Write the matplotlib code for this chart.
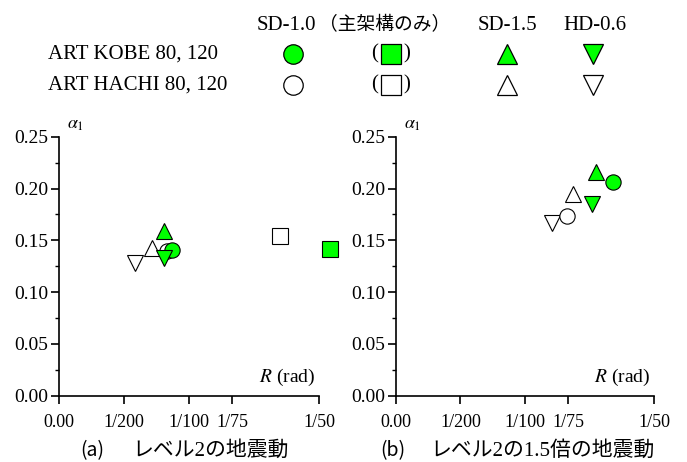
import matplotlib.pyplot as plt
from matplotlib.ticker import MultipleLocator

plt.rcParams['font.family'] = ['Liberation Serif', 'Noto Sans CJK JP']
plt.rcParams['mathtext.fontset'] = 'stix'

GREEN = '#00ff00'

# level 2 ground motion (a)
a_open_tri_dn = (0.00582, 0.1278)
a_open_tri_up = (0.00716, 0.1429)
a_open_circle = (0.00826, 0.1400)
a_fill_circle = (0.00869, 0.1403)
a_fill_tri_up = (0.00803, 0.1590)
a_fill_tri_dn = (0.00810, 0.1326)
a_open_square = (0.01703, 0.1542)
a_fill_square = (0.02088, 0.1416)

# 1.5x level 2 ground motion (b)
b_open_tri_dn = (0.01212, 0.1664)
b_open_circle = (0.01323, 0.1737)
b_open_tri_up = (0.01375, 0.1947)
b_fill_tri_dn = (0.01522, 0.1847)
b_fill_tri_up = (0.01549, 0.2160)
b_fill_circle = (0.01682, 0.2060)

x_ticks = [0.0, 1 / 200, 1 / 100, 1 / 75, 1 / 50]
x_ticklabels = ['0.00', '1/200', '1/100', '1/75', '1/50']

W, H = 687, 462
fig = plt.figure(figsize=(6.87, 4.62), dpi=100)
ax_a = fig.add_axes([0.0863, 0.1435, 0.378, 0.5605])
ax_b = fig.add_axes([0.5764, 0.1435, 0.3756, 0.5605])


def mark(ax, pt, marker, filled, size):
    ax.plot(pt[0], pt[1], marker=marker, markersize=size,
            markerfacecolor=GREEN if filled else 'white',
            markeredgecolor='black', markeredgewidth=0.8,
            linestyle='none', clip_on=False)


def style(ax):
    ax.set_xlim(0, 0.02)
    ax.set_ylim(0, 0.25)
    ax.spines['top'].set_visible(False)
    ax.spines['right'].set_visible(False)
    ax.spines['left'].set_linewidth(1.2)
    ax.spines['bottom'].set_linewidth(1.2)
    ax.set_xticks(x_ticks)
    ax.set_xticklabels(x_ticklabels)
    ax.yaxis.set_major_locator(MultipleLocator(0.05))
    ax.yaxis.set_minor_locator(MultipleLocator(0.025))
    ax.set_yticklabels([f'{v:.2f}' for v in ax.get_yticks()])
    ax.tick_params(direction='out', length=6, width=1.2)
    ax.tick_params(which='minor', direction='out', length=3, width=1.0)
    ax.tick_params(axis='x', pad=7, labelsize=13)
    ax.tick_params(axis='y', pad=2, labelsize=14)
    ax.text(0.03, 1.015, r'$\alpha_1$', transform=ax.transAxes,
            fontsize=13, ha='left', va='bottom')
    ax.text(0.985, 0.07, r'$R$ (rad)', transform=ax.transAxes,
            fontsize=14, ha='right', va='center')


style(ax_a)
style(ax_b)

mark(ax_a, a_open_tri_dn, 'v', False, 11)
mark(ax_a, a_open_tri_up, '^', False, 11)
mark(ax_a, a_open_circle, 'o', False, 11)
mark(ax_a, a_fill_circle, 'o', True, 11)
mark(ax_a, a_fill_tri_up, '^', True, 11)
mark(ax_a, a_fill_tri_dn, 'v', True, 11)
mark(ax_a, a_open_square, 's', False, 11)
mark(ax_a, a_fill_square, 's', True, 11)

mark(ax_b, b_open_tri_dn, 'v', False, 11)
mark(ax_b, b_open_circle, 'o', False, 11)
mark(ax_b, b_open_tri_up, '^', False, 11)
mark(ax_b, b_fill_tri_dn, 'v', True, 11)
mark(ax_b, b_fill_tri_up, '^', True, 11)
mark(ax_b, b_fill_circle, 'o', True, 11)

# overlay in pixel coordinates for legend block and captions
top = fig.add_axes([0, 0, 1, 1], facecolor='none')
top.set_xlim(0, W)
top.set_ylim(H, 0)
top.axis('off')

# captions
top.text(80, 451, '(a)', fontsize=14, family='Noto Sans CJK JP',
         ha='left', va='center')
top.text(132, 451, 'レベル2の地震動', fontsize=15,
         ha='left', va='center')
top.text(380, 451, '(b)', fontsize=14, family='Noto Sans CJK JP',
         ha='left', va='center')
top.text(430, 451, 'レベル2の1.5倍の地震動', fontsize=15,
         ha='left', va='center')

# legend block at top
headers = ['SD-1.0', '（主架構のみ）', 'SD-1.5', 'HD-0.6']
header_x = [257, 319, 478, 563]
header_size = [15, 13.5, 15, 15]
row_labels = ['ART KOBE 80, 120', 'ART HACHI 80, 120']
row_y = [54, 85]
leg_markers = ['o', 's', '^', 'v']
leg_x = [293, 391, 507, 593]

for h, x, s in zip(headers, header_x, header_size):
    top.text(x, 25, h, fontsize=s, ha='left', va='center')
for lab, y in zip(row_labels, row_y):
    top.text(48, y, lab, fontsize=15, ha='left', va='center')

for i, y in enumerate(row_y):
    filled = i == 0
    for m, x in zip(leg_markers, leg_x):
        top.plot(x, y, marker=m, markersize=14,
                 markerfacecolor=GREEN if filled else 'white',
                 markeredgecolor='black', markeredgewidth=0.9,
                 linestyle='none')
    top.text(375, y, '(', fontsize=15, ha='center', va='center')
    top.text(407, y, ')', fontsize=15, ha='center', va='center')

fig.savefig('out.png', dpi=100)
